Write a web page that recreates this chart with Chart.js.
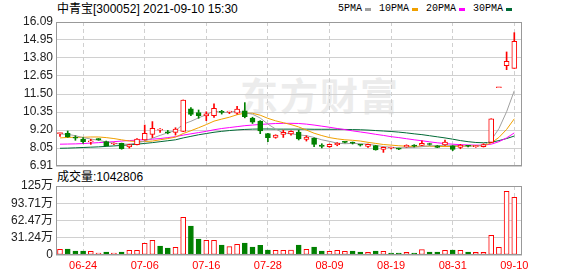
<!DOCTYPE html>
<html>
<head>
<meta charset="utf-8">
<script src="https://cdn.jsdelivr.net/npm/chart.js@4.4.1/dist/chart.umd.min.js"></script>
<style>
  body { margin: 0; background: #fff; width: 578px; height: 276px; position: relative; overflow: hidden;
         font-family: "Liberation Sans", "Noto Sans CJK SC", sans-serif; }
  canvas { position: absolute; left: 0; top: 0; }
  .txt { position: absolute; font-size: 12px; line-height: 14px; color: #000; white-space: nowrap; }
  #legend { position: absolute; left: 338px; top: 3px; font: 10px "Liberation Mono", monospace; line-height: 12px;
            display: flex; align-items: center; white-space: nowrap; }
  #legend i { display: inline-block; width: 6px; height: 3px; margin: 0 8px 0 3px; }
  #wm { position: absolute; left: 240px; top: 66px; font: bold 38px "Noto Sans CJK SC", sans-serif;
        color: #ececec; letter-spacing: 2px; }
</style>
</head>
<body>
<div id="wm">东方财富</div>
<div class="txt" style="left:57px;top:2px">中青宝[300052] 2021-09-10 15:30</div>
<div id="legend">5PMA<i style="background:#a0a0a0"></i>10PMA<i style="background:#f0a000"></i>20PMA<i style="background:#ff00ff"></i>30PMA<i style="background:#006a36"></i></div>
<div class="txt" style="left:57px;top:170px">成交量:1042806</div>
<canvas id="kline" width="578" height="276"></canvas>
<canvas id="vol" width="578" height="276"></canvas>
<script>
// trading days 2021-06-21 .. 2021-09-10
const dates = ['06-21','06-22','06-23','06-24','06-25','06-28','06-29','06-30','07-01','07-02',
  '07-05','07-06','07-07','07-08','07-09','07-12','07-13','07-14','07-15','07-16',
  '07-19','07-20','07-21','07-22','07-23','07-26','07-27','07-28','07-29','07-30',
  '08-02','08-03','08-04','08-05','08-06','08-09','08-10','08-11','08-12','08-13',
  '08-16','08-17','08-18','08-19','08-20','08-23','08-24','08-25','08-26','08-27',
  '08-30','08-31','09-01','09-02','09-03','09-06','09-07','09-08','09-09','09-10'];
const dateTicks = ['06-24','07-06','07-16','07-28','08-09','08-19','08-31','09-10'];

const open  = [8.97,8.99,8.73,8.62,8.44,8.62,8.47,8.31,8.35,8.12, 8.27,8.57,8.93,9.20,9.08,9.05,9.12,10.55,10.32,10.10,
  10.12,10.40,10.34,10.27,10.42,9.96,9.78,8.97,8.73,8.93, 8.96,9.08,8.61,8.67,8.25,8.14,8.27,8.44,8.40,8.27,
  8.16,8.21,7.97,8.06,8.02,8.14,8.22,8.22,8.32,8.19, 8.25,8.19,8.10,8.20,8.15,8.14,8.42,11.90,13.30,13.13];
const high  = [9.03,9.14,8.84,8.72,8.61,8.66,8.50,8.38,8.37,8.30, 8.66,9.52,9.74,9.29,9.18,9.35,11.12,10.63,10.48,10.37,
  10.88,10.46,10.40,10.71,10.95,10.02,9.80,9.00,8.90,9.20, 9.16,9.20,8.84,8.70,8.33,8.31,8.40,8.47,8.44,8.29,
  8.31,8.23,8.12,8.11,8.05,8.26,8.27,8.52,8.36,8.22, 8.57,8.21,8.29,8.23,8.22,8.33,9.92,11.90,14.18,15.41];
const low   = [8.80,8.74,8.55,8.36,8.29,8.55,8.18,8.27,7.98,8.05, 8.25,8.55,8.72,9.05,8.96,8.88,9.10,10.12,9.95,9.80,
  10.00,10.22,10.25,10.22,9.98,9.62,8.97,8.46,8.68,8.73, 8.88,8.57,8.50,8.14,8.06,8.10,8.20,8.38,8.31,8.18,
  8.10,7.92,7.78,8.00,7.95,8.10,8.12,8.20,8.24,8.08, 8.22,7.89,8.01,8.12,8.10,8.12,8.40,11.90,13.05,13.13];
const close = [9.01,8.76,8.68,8.46,8.52,8.59,8.21,8.34,8.02,8.27, 8.62,8.99,9.31,9.22,9.02,9.27,11.12,10.20,10.12,10.24,
  10.59,10.33,10.37,10.54,10.06,9.70,9.15,8.72,8.88,9.06, 9.12,8.63,8.76,8.29,8.16,8.29,8.35,8.42,8.37,8.24,
  8.29,7.94,8.10,8.08,7.99,8.22,8.18,8.35,8.28,8.10, 8.44,7.97,8.25,8.17,8.19,8.27,9.92,11.90,13.58,14.86];
const volume = [103000,109000,72000,72000,67000,36000,54000,36000,54000,85000,
  85000,211000,266000,163000,127000,139000,682000,525000,290000,266000,
  266000,181000,151000,193000,217000,145000,175000,90000,85000,85000,
  88000,181000,103000,145000,72000,67000,85000,67000,72000,54000,
  49000,72000,67000,36000,36000,49000,36000,96000,54000,54000,
  85000,90000,85000,54000,49000,49000,357000,139000,1153000,1042806];

const ma5  = [8.95,8.93,8.84,8.72,8.63,8.55,8.44,8.36,8.30,8.30, 8.38,8.50,8.68,8.86,9.03,9.16,9.58,9.76,9.98,10.18,
  10.42,10.32,10.33,10.41,10.30,10.21,9.97,9.58,9.27,9.02, 8.96,8.90,8.84,8.73,8.58,8.48,8.37,8.33,8.35,8.33,
  8.30,8.22,8.15,8.10,8.07,8.08,8.10,8.14,8.20,8.20, 8.24,8.22,8.21,8.18,8.20,8.21,8.56,9.29,10.37,11.71];
const ma10 = [8.70,8.73,8.74,8.74,8.76,8.76,8.72,8.66,8.58,8.50, 8.47,8.47,8.50,8.58,8.66,8.75,8.98,9.16,9.35,9.55,
  9.77,9.90,10.02,10.18,10.28,10.27,10.15,9.95,9.79,9.67, 9.55,9.40,9.20,9.00,8.85,8.72,8.64,8.58,8.55,8.50,
  8.42,8.35,8.28,8.24,8.20,8.17,8.16,8.17,8.17,8.16, 8.15,8.16,8.17,8.18,8.20,8.21,8.38,8.73,9.24,9.92];
const ma20 = [8.30,8.31,8.32,8.34,8.37,8.40,8.43,8.46,8.50,8.53, 8.56,8.59,8.62,8.66,8.72,8.78,8.88,8.96,9.04,9.12,
  9.22,9.30,9.36,9.42,9.48,9.52,9.56,9.59,9.62,9.63, 9.63,9.62,9.58,9.52,9.45,9.38,9.30,9.23,9.15,9.08,
  9.01,8.93,8.86,8.78,8.72,8.65,8.58,8.52,8.45,8.39, 8.34,8.30,8.27,8.25,8.24,8.24,8.30,8.46,8.70,9.02];
const ma30 = [8.04,8.05,8.07,8.09,8.11,8.13,8.16,8.19,8.22,8.26, 8.30,8.35,8.40,8.46,8.52,8.58,8.70,8.80,8.90,8.98,
  9.06,9.12,9.17,9.21,9.24,9.26,9.27,9.27,9.26,9.26, 9.26,9.26,9.26,9.25,9.25,9.25,9.25,9.24,9.23,9.22,
  9.20,9.17,9.14,9.11,9.07,9.02,8.96,8.91,8.84,8.77, 8.70,8.62,8.53,8.46,8.41,8.39,8.42,8.53,8.66,8.82];

const priceTicks = [6.91, 8.05, 9.20, 10.35, 11.50, 12.65, 13.80, 14.95, 16.09];
const volTicks = [0, 312350, 624700, 937050, 1249400];
const volTickLabels = ['0', '31.24万', '62.47万', '93.71万', '125万'];

const RED = '#ff0000', GREEN = '#008000';
const FONT = '"Liberation Sans", "Noto Sans CJK SC", sans-serif';
const tickIdx = dateTicks.map((d) => dates.indexOf(d));

const candleUp = (i) => close[i] > open[i] || (close[i] === open[i] && (i === 0 || close[i] >= close[i - 1]));
const volUp = (i) => (i === 0 ? close[i] >= open[i] : close[i] >= close[i - 1]);
const pts = (arr) => arr.map((v, i) => ({ x: i, y: v }));

// plot frame (top/right/left/bottom border)
const frame = {
  id: 'frame',
  afterDraw(chart) {
    const a = chart.chartArea, ctx = chart.ctx;
    ctx.save();
    ctx.strokeStyle = '#999';
    ctx.lineWidth = 1;
    ctx.strokeRect(Math.round(a.left) + 0.5, Math.round(a.top) + 0.5,
      Math.round(a.right - a.left) - 1, Math.round(a.bottom - a.top) - 1);
    ctx.restore();
  },
};

function xScale(labels) {
  return {
    type: 'linear', min: -0.52, max: 60, offset: false,
    afterBuildTicks: (s) => { s.ticks = tickIdx.map((v) => ({ value: v })); },
    afterFit: (s) => { s.height = labels ? 21 : 0; },
    grid: { color: '#d0d0d0', drawTicks: false, offset: false },
    border: { display: false, dash: [4, 3] },
    ticks: labels
      ? { autoSkip: false, maxRotation: 0, padding: 4, color: RED, font: { family: FONT, size: 11 },
          callback: (v) => dates[v] }
      : { display: false },
  };
}

const common = {
  responsive: false,
  animation: false,
  events: [],
  plugins: { legend: { display: false }, tooltip: { enabled: false } },
};

// candles: wick halves + body as floating bars
const wickColor = (c) => (candleUp(c.dataIndex) ? RED : GREEN);
new Chart(document.getElementById('kline'), {
  type: 'bar',
  data: {
    datasets: [
      { type: 'line', data: pts(ma5), borderColor: '#a0a0a0', borderWidth: 1, pointRadius: 0, order: 2 },
      { type: 'line', data: pts(ma10), borderColor: '#f0a000', borderWidth: 1, pointRadius: 0, order: 2 },
      { type: 'line', data: pts(ma20), borderColor: '#ff00ff', borderWidth: 1, pointRadius: 0, order: 2 },
      { type: 'line', data: pts(ma30), borderColor: '#006a36', borderWidth: 1, pointRadius: 0, order: 2 },
      { data: open.map((o, i) => ({ x: i, y: [Math.max(o, close[i]), high[i]] })),
        backgroundColor: wickColor, barThickness: 1, grouped: false, order: 1 },
      { data: open.map((o, i) => ({ x: i, y: [low[i], Math.min(o, close[i])] })),
        backgroundColor: wickColor, barThickness: 1, grouped: false, order: 1 },
      { data: open.map((o, i) => ({ x: i, y: [o, close[i]] })),
        backgroundColor: (c) => (candleUp(c.dataIndex) ? '#fff' : GREEN),
        borderColor: wickColor, borderWidth: 1, borderSkipped: false,
        barThickness: 5, minBarLength: 1, grouped: false, order: 0 },
    ],
  },
  options: {
    ...common,
    layout: { padding: { left: 0, right: 56, top: 22, bottom: 110 } },
    scales: {
      x: xScale(false),
      y: {
        min: priceTicks[0], max: priceTicks[priceTicks.length - 1],
        afterBuildTicks: (s) => { s.ticks = priceTicks.map((v) => ({ value: v })); },
        afterFit: (s) => { s.width = 56; },
        grid: { color: '#d0d0d0', drawTicks: false },
        border: { display: false },
        ticks: { autoSkip: false, padding: 3, color: '#222', font: { family: FONT, size: 12 },
                 callback: (v) => v.toFixed(2) },
      },
    },
  },
  plugins: [frame],
});

new Chart(document.getElementById('vol'), {
  type: 'bar',
  data: {
    datasets: [{
      data: volume.map((v, i) => ({ x: i, y: v })),
      backgroundColor: (c) => (volUp(c.dataIndex) ? '#fff' : GREEN),
      borderColor: (c) => (volUp(c.dataIndex) ? RED : GREEN),
      borderWidth: 1, borderSkipped: false, barThickness: 5, grouped: false,
    }],
  },
  options: {
    ...common,
    layout: { padding: { left: 0, right: 56, top: 186, bottom: 0 } },
    scales: {
      x: xScale(true),
      y: {
        min: 0, max: volTicks[volTicks.length - 1],
        afterBuildTicks: (s) => { s.ticks = volTicks.map((v) => ({ value: v })); },
        afterFit: (s) => { s.width = 56; },
        grid: { color: '#d0d0d0', drawTicks: false },
        border: { display: false },
        ticks: { autoSkip: false, padding: 3, color: '#222', font: { family: FONT, size: 12 },
                 callback: (v) => volTickLabels[volTicks.indexOf(v)] },
      },
    },
  },
  plugins: [frame],
});
</script>
</body>
</html>
